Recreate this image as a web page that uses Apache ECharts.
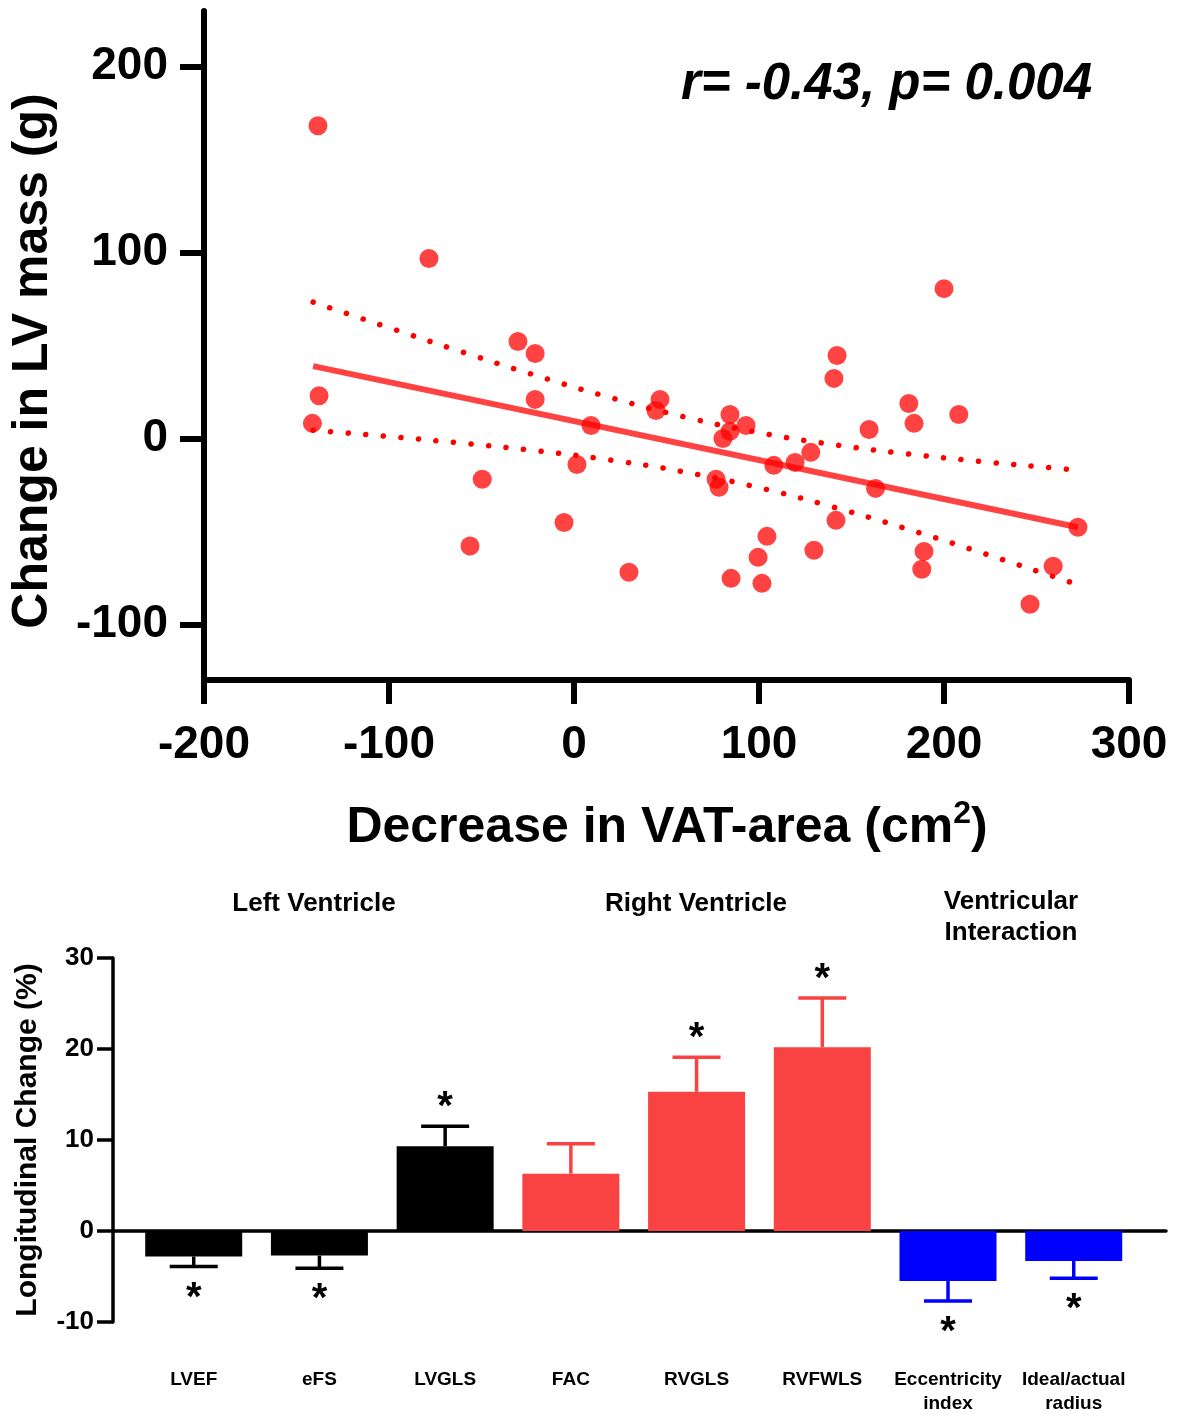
<!DOCTYPE html>
<html><head><meta charset="utf-8">
<script src="https://cdn.jsdelivr.net/npm/echarts@6/dist/echarts.min.js"></script>
<style>html,body{margin:0;padding:0;background:#fff}#c{width:1183px;height:1416px}</style>
</head><body><div id="c"></div>
<script>
// ---------- Scatter panel data ----------
const scatterPoints = [
  [-138.4, 168.3], [-78.4, 96.8], [-137.8, 23.0], [-141.4, 8.1], [-49.6, -22.0],
  [-56.2, -57.9], [-30.3, 52.2], [-21.0, 45.7], [-21.0, 21.0], [-5.4, -45.2],
  [1.6, -14.0], [9.2, 7.0], [29.7, -72.0], [46.5, 21.0], [44.3, 15.0],
  [200.0, 80.6], [142.2, 44.6], [140.5, 32.3], [181.0, 18.8], [208.0, 12.9],
  [183.8, 8.1], [159.5, 4.8], [84.3, 12.9], [93.0, 7.0], [84.3, 3.8],
  [80.5, 0.0], [128.0, -7.5], [108.0, -14.5], [119.5, -12.9], [163.0, -26.9],
  [76.8, -22.0], [78.4, -26.3], [141.6, -44.1], [104.3, -52.7], [129.7, -60.2],
  [99.5, -64.0], [84.9, -75.3], [101.6, -78.0], [189.2, -60.8], [188.0, -70.4],
  [259.0, -68.8], [246.5, -89.2], [272.4, -47.8]
];
const fitLine = [[-141, 38.9], [272.4, -47.8]];
const upperBand = [
  [-141, 73.3], [-100, 59.6], [-60, 46.4], [-20, 33.7], [20, 21.9], [60, 11.5],
  [100, 3.1], [140, -3.3], [180, -8.3], [220, -12.4], [260, -16.0], [272, -17.0]
];
const lowerBand = [
  [-141, 4.4], [-100, 1.0], [-60, -2.6], [-20, -6.7], [20, -11.7], [60, -18.1],
  [100, -26.5], [140, -36.9], [180, -48.7], [220, -61.4], [260, -74.6], [272, -78.6]
];
const scatterYTicks = [-100, 0, 100, 200];
const statText = 'r= -0.43, p= 0.004';

// ---------- Bar panel data ----------
const categories = ['LVEF', 'eFS', 'LVGLS', 'FAC', 'RVGLS', 'RVFWLS', 'Eccentricity\nindex', 'Ideal/actual\nradius'];
const barValues = [-2.8, -2.7, 9.3, 6.3, 15.3, 20.2, -5.5, -3.3];
const barErrors = [1.1, 1.4, 2.2, 3.3, 3.8, 5.4, 2.2, 1.9];
const significant = [1, 1, 1, 0, 1, 1, 1, 1];
const barGroup = [0, 0, 0, 1, 1, 1, 2, 2];
const groupHeadings = ['Left Ventricle', 'Right Ventricle', 'Ventricular\nInteraction'];

const groupColors = ['#000000', '#f94343', '#0000ff'];
const FONT = '"Liberation Sans", Arial, Helvetica, sans-serif';

const chart = echarts.init(document.getElementById('c'), null, {renderer: 'canvas'});

const option = {
  animation: false,
  backgroundColor: '#fff',
  grid: [
    {left: 204, right: 54, top: 11, bottom: 736},
    {left: 113, right: 17, top: 958, bottom: 89}
  ],
  xAxis: [
    {
      gridIndex: 0, type: 'value', min: -200, max: 300, interval: 100,
      axisLine: {show: true, onZero: false, lineStyle: {color: '#000', width: 6}},
      axisTick: {show: true, length: 24, lineStyle: {color: '#000', width: 6}},
      axisLabel: {fontSize: 46, fontWeight: 'bold', color: '#000', margin: 42, fontFamily: FONT},
      splitLine: {show: false}
    },
    {
      gridIndex: 1, type: 'value', min: -0.642, max: 7.734, position: 'bottom',
      axisLine: {show: true, onZero: true, lineStyle: {color: '#000', width: 3.5}},
      axisTick: {show: false}, axisLabel: {show: false}, splitLine: {show: false}
    },
    {
      gridIndex: 1, type: 'value', min: -0.642, max: 7.734, position: 'bottom',
      axisLine: {show: false, onZero: false}, axisTick: {show: false}, splitLine: {show: false},
      axisLabel: {
        customValues: categories.map((c, i) => i),
        formatter: v => categories[Math.round(v)],
        fontSize: 19, fontWeight: 'bold', color: '#000', lineHeight: 24, margin: 46, fontFamily: FONT
      }
    }
  ],
  yAxis: [
    {
      gridIndex: 0, type: 'value', min: -130, max: 230,
      axisLine: {show: true, onZero: false, lineStyle: {color: '#000', width: 6}},
      axisTick: {show: true, length: 24, customValues: scatterYTicks, lineStyle: {color: '#000', width: 6}},
      axisLabel: {customValues: scatterYTicks, fontSize: 46, fontWeight: 'bold', color: '#000', margin: 36, fontFamily: FONT},
      splitLine: {show: false}
    },
    {
      gridIndex: 1, type: 'value', min: -10, max: 30, interval: 10,
      axisLine: {show: true, onZero: false, lineStyle: {color: '#000', width: 3.5}},
      axisTick: {show: true, length: 16, lineStyle: {color: '#000', width: 3.5}},
      axisLabel: {fontSize: 26, fontWeight: 'bold', color: '#000', margin: 19, fontFamily: FONT},
      splitLine: {show: false}
    }
  ],
  series: [
    {
      type: 'line', xAxisIndex: 0, yAxisIndex: 0, data: upperBand, smooth: true, symbol: 'none',
      lineStyle: {color: '#ff0000', width: 5.5, type: [0.1, 17.5], cap: 'round'}, z: 2
    },
    {
      type: 'line', xAxisIndex: 0, yAxisIndex: 0, data: lowerBand, smooth: true, symbol: 'none',
      lineStyle: {color: '#ff0000', width: 5.5, type: [0.1, 17.5], cap: 'round'}, z: 2
    },
    {
      type: 'line', xAxisIndex: 0, yAxisIndex: 0, data: fitLine, symbol: 'none',
      lineStyle: {color: '#ff0000', width: 6, opacity: 0.74}, z: 3
    },
    {
      type: 'scatter', xAxisIndex: 0, yAxisIndex: 0, data: scatterPoints, symbolSize: 19,
      itemStyle: {color: '#ff0000', opacity: 0.74}, z: 4
    },
    {
      type: 'bar', xAxisIndex: 1, yAxisIndex: 1, barWidth: 97,
      data: barValues.map((v, i) => ({value: [i, v], itemStyle: {color: groupColors[barGroup[i]]}})),
      z: 2
    },
    {
      type: 'custom', xAxisIndex: 1, yAxisIndex: 1, z: 3,
      data: barValues.map((v, i) => [i, v, barErrors[i], significant[i], barGroup[i]]),
      renderItem: function (params, api) {
        const x = api.value(0), v = api.value(1), e = api.value(2), s = api.value(3), g = api.value(4);
        const end = v >= 0 ? v + e : v - e;
        const p0 = api.coord([x, v]);
        const p1 = api.coord([x, end]);
        const col = groupColors[g];
        const children = [
          {type: 'line', shape: {x1: p0[0], y1: p0[1], x2: p1[0], y2: p1[1]}, style: {stroke: col, lineWidth: 3.5}},
          {type: 'line', shape: {x1: p1[0] - 24, y1: p1[1], x2: p1[0] + 24, y2: p1[1]}, style: {stroke: col, lineWidth: 3.5}}
        ];
        if (s) {
          children.push({
            type: 'text',
            style: {
              text: '*', x: p1[0], y: p1[1] + (v >= 0 ? -25 : 25) + 7,
              align: 'center', verticalAlign: 'middle', textAlign: 'center', textVerticalAlign: 'middle',
              font: 'bold 40px ' + FONT, fill: '#000'
            }
          });
        }
        return {type: 'group', children: children};
      }
    }
  ],
  graphic: [
    {
      type: 'text', x: 1092, y: 85,
      style: {text: statText, font: 'italic bold 51px ' + FONT, fill: '#000',
        align: 'right', verticalAlign: 'middle', textAlign: 'right', textVerticalAlign: 'middle'}
    },
    {
      type: 'text', x: 33, y: 361, rotation: Math.PI / 2,
      style: {text: 'Change in LV mass (g)', font: 'bold 50px ' + FONT, fill: '#000',
        align: 'center', verticalAlign: 'middle', textAlign: 'center', textVerticalAlign: 'middle'}
    },
    {
      type: 'text', x: 667, y: 828,
      style: {
        text: '{a|Decrease in VAT-area (cm}{s|2}{a|)}',
        rich: {
          a: {fontSize: 50, fontWeight: 'bold', fontFamily: FONT, fill: '#000', color: '#000', lineHeight: 60},
          s: {fontSize: 32, fontWeight: 'bold', fontFamily: FONT, fill: '#000', color: '#000', lineHeight: 14, verticalAlign: 'top'}
        },
        align: 'center', verticalAlign: 'middle', textAlign: 'center', textVerticalAlign: 'middle'
      }
    },
    {
      type: 'text', x: 28, y: 1140, rotation: Math.PI / 2,
      style: {text: 'Longitudinal Change (%)', font: 'bold 30px ' + FONT, fill: '#000',
        align: 'center', verticalAlign: 'middle', textAlign: 'center', textVerticalAlign: 'middle'}
    },
    {
      type: 'text', x: 314, y: 904,
      style: {text: groupHeadings[0], font: 'bold 26px ' + FONT, fill: '#000',
        align: 'center', verticalAlign: 'middle', textAlign: 'center', textVerticalAlign: 'middle'}
    },
    {
      type: 'text', x: 696, y: 904,
      style: {text: groupHeadings[1], font: 'bold 26px ' + FONT, fill: '#000',
        align: 'center', verticalAlign: 'middle', textAlign: 'center', textVerticalAlign: 'middle'}
    },
    {
      type: 'text', x: 1011, y: 917,
      style: {text: groupHeadings[2], font: 'bold 26px ' + FONT, fill: '#000', lineHeight: 31,
        align: 'center', verticalAlign: 'middle', textAlign: 'center', textVerticalAlign: 'middle'}
    }
  ]
};
chart.setOption(option);
</script>
</body></html>
